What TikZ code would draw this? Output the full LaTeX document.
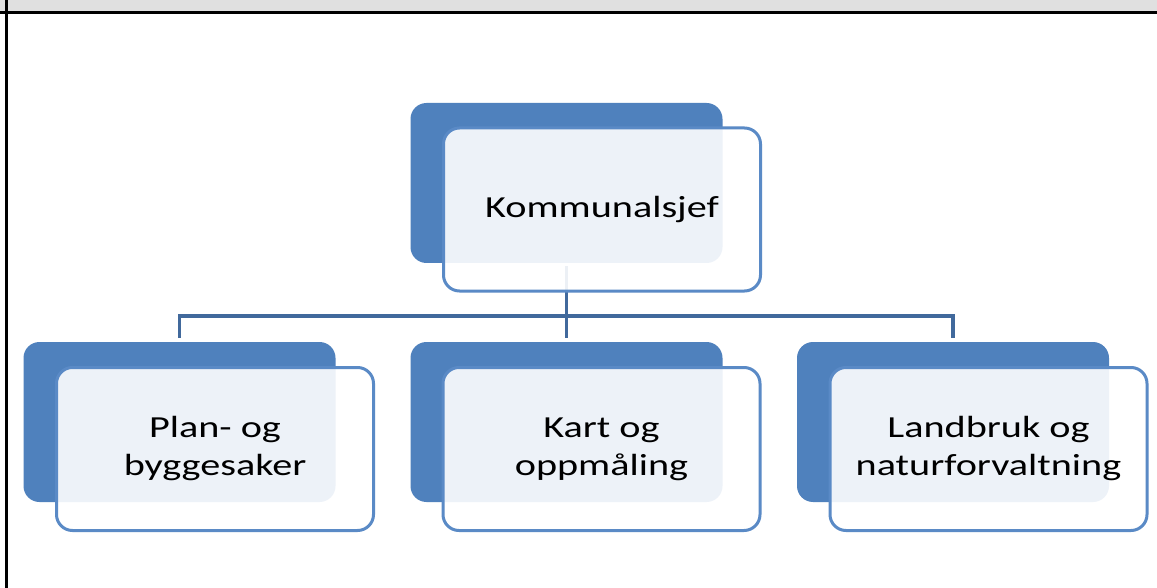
\documentclass[tikz,border=0pt]{standalone}
\usepackage{fontspec}
\usepackage{graphicx}
\setmainfont{Carlito}
\definecolor{backblue}{HTML}{4F81BD}
\definecolor{edgeblue}{HTML}{5A8AC6}
\definecolor{linkblue}{HTML}{41699C}
\definecolor{bandgray}{HTML}{E0E0E0}
\newcommand{\wide}[1]{\scalebox{1.34}[1.02]{\begin{tabular}{@{}c@{}}#1\end{tabular}}}
\begin{document}
\begin{tikzpicture}[x=1pt,y=-1pt,
  backbox/.style={fill=backblue, rounded corners=16pt, minimum width=312pt, minimum height=160pt, inner sep=0pt},
  frontbox/.style={draw=edgeblue, line width=3pt, fill=white, fill opacity=0.9, text opacity=1,
    rounded corners=16pt, minimum width=317pt, minimum height=163pt, inner sep=0pt,
    font=\fontsize{30}{37}\selectfont},
  link/.style={draw=linkblue, line width=3.2pt}]
\useasboundingbox (0,0) rectangle (1157,588);
\fill[white] (0,0) rectangle (1157,588);
\fill[bandgray] (0,0) rectangle (1157,12.5);
\draw[black, line width=3pt] (0,13) -- (1157,13);
\draw[black, line width=3pt] (6,0) -- (6,588);
% back boxes
\node[backbox] (tb) at (566.5,183) {};
\node[backbox] (lb) at (179.5,422) {};
\node[backbox] (mb) at (566.5,422) {};
\node[backbox] (rb) at (953,422) {};
% connectors
\coordinate (bus) at (566.5,316);
\draw[link] ([yshift=-3pt]tb.south) -- (bus);
\draw[link] ([yshift=4pt]lb.north) |- (bus) -| ([yshift=4pt]rb.north);
\draw[link] (bus) -- ([yshift=4pt]mb.north);
% front boxes
\node[frontbox] (tf) at (602,209.5) {\wide{Kommunalsjef}};
\node[frontbox] (lf) at (215,449) {\wide{Plan- og\\byggesaker}};
\node[frontbox] (mf) at (601.5,449) {\wide{Kart og\\oppmåling}};
\node[frontbox] (rf) at (988.5,449) {\wide{Landbruk og\\naturforvaltning}};
\end{tikzpicture}
\end{document}
